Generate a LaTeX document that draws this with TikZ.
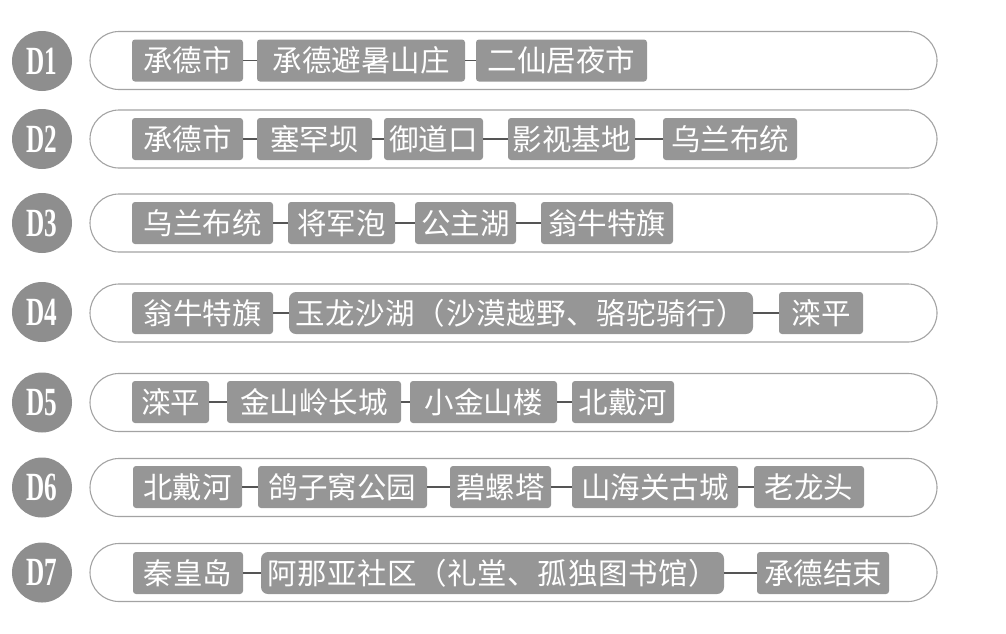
\documentclass[tikz,border=0pt]{standalone}
\usepackage{fontspec}
\setmainfont{Liberation Serif}
\newfontfamily\cjk{Noto Sans CJK SC}
\newfontfamily\cjkwide[LetterSpace=2]{Noto Sans CJK SC}
\newfontfamily\dfont{Liberation Serif}
\definecolor{boxgray}{RGB}{150,150,150}
\definecolor{circgray}{RGB}{142,142,142}
\definecolor{capgray}{RGB}{163,163,163}
\definecolor{linkgray}{RGB}{85,85,85}
\tikzset{
  stop/.style={rounded corners=3pt, fill=boxgray, text=white, minimum height=42pt,
    inner sep=0pt, font=\cjk\fontsize{29.5}{30}\selectfont},
  longstop/.style={stop, rounded corners=7pt, font=\cjkwide\fontsize{29.5}{30}\selectfont},
  daybadge/.style={circle, fill=circgray, text=white, minimum size=60pt, inner sep=0pt,
    font=\dfont\bfseries\fontsize{40}{40}\selectfont},
  capsule/.style={draw=capgray, line width=1.1pt, rounded corners=29pt},
  link/.style={draw=linkgray, line width=1.1pt}
}
\newcommand{\dlab}[1]{\scalebox{0.63}[1]{#1}}
\begin{document}
\begin{tikzpicture}[x=1pt,y=-1pt]
\useasboundingbox (0,0) rectangle (1006,633);
% capsules
\foreach \yc in {60.5,139,223,313,402.5,487.5,572.5}{
  \draw[capsule] (90,\yc-29) rectangle (937,\yc+29);
}
% day badges
\node[daybadge] (n1) at (42,61) {\dlab{D1}};
\node[daybadge] (n2) at (42,139) {\dlab{D2}};
\node[daybadge] (n3) at (42,223) {\dlab{D3}};
\node[daybadge] (n4) at (42,312) {\dlab{D4}};
\node[daybadge] (n5) at (42,402.5) {\dlab{D5}};
\node[daybadge] (n6) at (42,487.5) {\dlab{D6}};
\node[daybadge] (n7) at (42,572.5) {\dlab{D7}};
% D1
\node[stop, minimum width=111pt] (d1a) at (187.5,60.5) {承德市};
\node[stop, minimum width=208pt] (d1b) at (361,60.5) {承德避暑山庄\hspace{9pt}};
\node[stop, minimum width=171pt] (d1c) at (561.5,60.5) {二仙居夜市};
\draw[link] (d1a.east) -- (d1b.west);
\draw[link] (d1b.east) -- (d1c.west);
% D2
\node[stop, minimum width=111pt] (d2a) at (187.5,139) {承德市};
\node[stop, minimum width=115pt] (d2b) at (314.5,139) {塞罕坝};
\node[stop, minimum width=99pt] (d2c) at (433.5,139) {御道口};
\node[stop, minimum width=127pt] (d2d) at (571.5,139) {影视基地};
\node[stop, minimum width=134pt] (d2e) at (730,139) {乌兰布统};
\draw[link] (d2a.east) -- (d2b.west);
\draw[link] (d2b.east) -- (d2c.west);
\draw[link] (d2c.east) -- (d2d.west);
\draw[link] (d2d.east) -- (d2e.west);
% D3
\node[stop, minimum width=141pt] (d3a) at (202.5,223) {乌兰布统};
\node[stop, minimum width=107pt] (d3b) at (341.5,223) {将军泡};
\node[stop, minimum width=101pt] (d3c) at (465.5,223) {公主湖};
\node[stop, minimum width=132pt] (d3d) at (607,223) {翁牛特旗};
\draw[link] (d3a.east) -- (d3b.west);
\draw[link] (d3b.east) -- (d3c.west);
\draw[link] (d3c.east) -- (d3d.west);
% D4
\node[stop, minimum width=141pt] (d4a) at (202.5,313) {翁牛特旗};
\node[longstop, minimum width=464pt] (d4b) at (521,313) {玉龙沙湖（沙漠越野、骆驼骑行）};
\node[stop, minimum width=84pt] (d4c) at (821,313) {滦平};
\draw[link] (d4a.east) -- (d4b.west);
\draw[link] (d4b.east) -- (d4c.west);
% D5
\node[stop, minimum width=77pt] (d5a) at (170.5,402) {滦平};
\node[stop, minimum width=174pt] (d5b) at (314,402) {金山岭长城};
\node[stop, minimum width=147pt] (d5c) at (483.5,402) {小金山楼};
\node[stop, minimum width=102pt] (d5d) at (623,402) {北戴河};
\draw[link] (d5a.east) -- (d5b.west);
\draw[link] (d5b.east) -- (d5c.west);
\draw[link] (d5c.east) -- (d5d.west);
% D6
\node[stop, minimum width=109pt] (d6a) at (187.5,487) {北戴河};
\node[stop, minimum width=169pt] (d6b) at (342.5,487) {鸽子窝公园};
\node[stop, minimum width=101pt] (d6c) at (500.5,487) {碧螺塔};
\node[stop, minimum width=166pt] (d6d) at (655,487) {山海关古城};
\node[stop, minimum width=110pt] (d6e) at (809,487) {老龙头};
\draw[link] (d6a.east) -- (d6b.west);
\draw[link] (d6b.east) -- (d6c.west);
\draw[link] (d6c.east) -- (d6d.west);
\draw[link] (d6d.east) -- (d6e.west);
% D7
\node[stop, minimum width=110pt] (d7a) at (188,573) {秦皇岛};
\node[longstop, minimum width=463pt] (d7b) at (492.5,573) {阿那亚社区（礼堂、孤独图书馆）};
\node[stop, minimum width=132pt] (d7c) at (823,573) {承德结束};
\draw[link] (d7a.east) -- (d7b.west);
\draw[link] (d7b.east) -- (d7c.west);
\end{tikzpicture}
\end{document}
